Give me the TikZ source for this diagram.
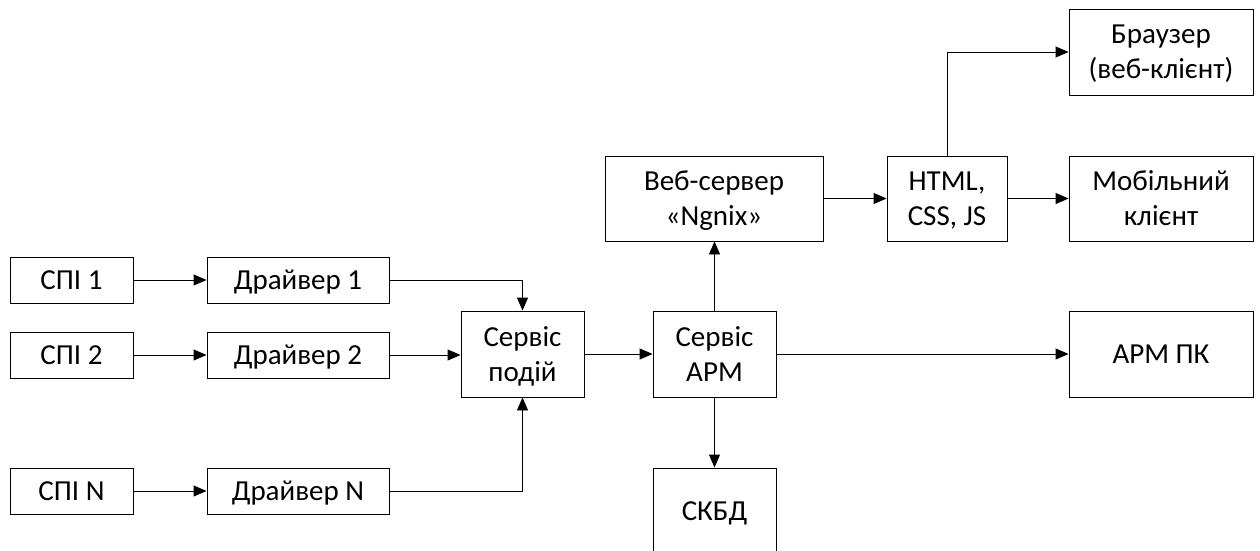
\documentclass[tikz,border=0pt]{standalone}
\usepackage{fontspec}
\setmainfont{Carlito}
\usetikzlibrary{arrows.meta}
\begin{document}
\begin{tikzpicture}[x=1pt,y=-1pt,
  blk/.style={draw,line width=0.9pt,inner sep=0pt,align=center,text depth=0pt,
    font=\fontsize{29}{35}\selectfont},
  conn/.style={line width=0.9pt,-{Triangle[length=13pt,width=11pt]}}]
\useasboundingbox (0,0) rectangle (1260,551);
\clip (0,0) rectangle (1260,551);
% sensors and drivers
\node[blk,minimum width=123pt,minimum height=46pt] (spi1) at (71.5,280) {СПІ 1};
\node[blk,minimum width=123pt,minimum height=46pt] (spi2) at (71.5,355) {СПІ 2};
\node[blk,minimum width=123pt,minimum height=46pt] (spiN) at (71.5,491) {СПІ N};
\node[blk,minimum width=182pt,minimum height=46pt] (dr1) at (298,280) {Драйвер 1};
\node[blk,minimum width=182pt,minimum height=46pt] (dr2) at (298,355) {Драйвер 2};
\node[blk,minimum width=182pt,minimum height=46pt] (drN) at (298,491) {Драйвер N};
% services
\node[blk,minimum width=123pt,minimum height=86pt] (evt) at (522.5,354) {Сервіс\\подій};
\node[blk,minimum width=123pt,minimum height=86pt] (arm) at (714.5,354) {Сервіс\\АРМ};
\node[blk,minimum width=123pt,minimum height=86pt] (db) at (714.5,511) {СКБД};
\node[blk,minimum width=218pt,minimum height=85pt] (web) at (714,198.5) {Веб-сервер\\«Ngnix»};
\node[blk,minimum width=120pt,minimum height=85pt] (html) at (947,198.5) {HTML,\\CSS, JS};
% clients
\node[blk,minimum width=184pt,minimum height=86pt] (brw) at (1161,52) {Браузер\\(веб-клієнт)};
\node[blk,minimum width=184pt,minimum height=85pt] (mob) at (1161,198.5) {Мобільний\\клієнт};
\node[blk,minimum width=184pt,minimum height=86pt] (pc) at (1161,354) {АРМ ПК};
% connectors
\draw[conn] (spi1) -- (dr1);
\draw[conn] (spi2) -- (dr2);
\draw[conn] (spiN) -- (drN);
\draw[conn] (dr1.east) -| (evt.north);
\draw[conn] (dr2.east) -- (dr2.east -| evt.west);
\draw[conn] (drN.east) -| (evt.south);
\draw[conn] (evt.east) -- (evt.east -| arm.west);
\draw[conn] (arm.east) -- (arm.east -| pc.west);
\draw[conn] (arm.north) -- (web.south -| arm.north);
\draw[conn] (arm.south) -- (db.north);
\draw[conn] (web.east) -- (html.west);
\draw[conn] (html.east) -- (mob.west);
\draw[conn] (html.north) |- (brw.west);
\end{tikzpicture}
\end{document}
